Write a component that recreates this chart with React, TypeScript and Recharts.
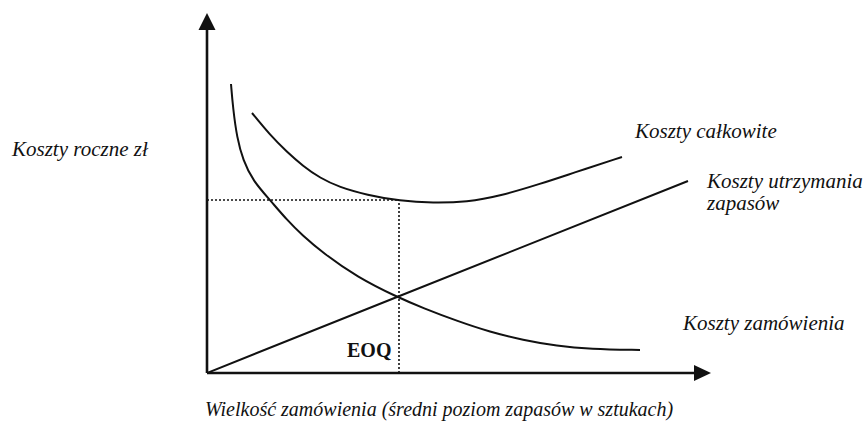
import React from "react";
import { ComposedChart, Line, XAxis, YAxis, ReferenceLine, ReferenceDot } from "recharts";

// data coordinates: x = order quantity (arbitrary units), y = annual cost (arbitrary units)
const orderingCost = [
  { x: 24, y: 289 }, { x: 26, y: 265 }, { x: 30, y: 235 }, { x: 36, y: 213 },
  { x: 46, y: 192 }, { x: 63, y: 173 }, { x: 80, y: 153 }, { x: 95, y: 138 },
  { x: 116, y: 120 }, { x: 150, y: 96 }, { x: 190, y: 76 }, { x: 216, y: 65 },
  { x: 250, y: 52 }, { x: 283, y: 41 }, { x: 316, y: 33 }, { x: 350, y: 27 },
  { x: 383, y: 24 }, { x: 433, y: 23 },
];
const holdingCost = [
  { x: 0, y: 0 }, { x: 190, y: 76 }, { x: 481, y: 192 },
];
const totalCost = [
  { x: 45, y: 260 }, { x: 63, y: 238 }, { x: 80, y: 221 }, { x: 96, y: 207 },
  { x: 113, y: 195 }, { x: 132, y: 186 }, { x: 160, y: 178 }, { x: 193, y: 172 },
  { x: 226, y: 170 }, { x: 260, y: 171 }, { x: 293, y: 177 }, { x: 333, y: 189 },
  { x: 366, y: 200 }, { x: 415, y: 216 },
];
const eoqX = 192;
const eoqCost = 173;
const xMax = 504;
const yMax = 360;

const labels = {
  yTitle: "Koszty roczne zł",
  xTitle: "Wielkość zamówienia (średni poziom zapasów w sztukach)",
  total: "Koszty całkowite",
  holding1: "Koszty utrzymania",
  holding2: "zapasów",
  ordering: "Koszty zamówienia",
  eoq: "EOQ",
};

const ink = "#111";

const UpArrow = (props: any) => {
  const { cx, cy } = props;
  return <polygon points={`${cx},${cy} ${cx - 8.5},${cy + 17} ${cx + 8.5},${cy + 17}`} fill={ink} />;
};
const RightArrow = (props: any) => {
  const { cx, cy } = props;
  return <polygon points={`${cx},${cy} ${cx - 17},${cy - 8} ${cx - 17},${cy + 8}`} fill={ink} />;
};

const serif = '"Liberation Serif", "Times New Roman", Times, serif';
const italicStyle: React.CSSProperties = { fontFamily: serif, fontStyle: "italic", fontSize: 21 };
const xTitleStyle: React.CSSProperties = { fontFamily: serif, fontStyle: "italic", fontSize: 20 };
const boldStyle: React.CSSProperties = { fontFamily: serif, fontWeight: 700, fontSize: 20 };

export default function App() {
  return (
    <div style={{ position: "absolute", left: 0, top: 0, width: 866, height: 431, background: "#fff" }}>
      <ComposedChart
        width={866}
        height={431}
        margin={{ top: 13, right: 155, bottom: 58, left: 207 }}
      >
        <XAxis type="number" dataKey="x" domain={[0, xMax]} hide allowDataOverflow />
        <YAxis type="number" dataKey="y" domain={[0, yMax]} hide allowDataOverflow />
        <ReferenceLine
          segment={[{ x: 0, y: eoqCost }, { x: eoqX, y: eoqCost }]}
          stroke={ink}
          strokeWidth={1.6}
          strokeDasharray="2 2"
        />
        <ReferenceLine
          segment={[{ x: eoqX, y: 0 }, { x: eoqX, y: eoqCost }]}
          stroke={ink}
          strokeWidth={1.6}
          strokeDasharray="2 2"
        />
        <Line data={orderingCost} dataKey="y" type="basis" stroke={ink} strokeWidth={2} dot={false} isAnimationActive={false} />
        <Line data={holdingCost} dataKey="y" type="linear" stroke={ink} strokeWidth={2} dot={false} isAnimationActive={false} />
        <Line data={totalCost} dataKey="y" type="basis" stroke={ink} strokeWidth={2} dot={false} isAnimationActive={false} />
        <ReferenceLine segment={[{ x: 0, y: 0 }, { x: xMax - 10, y: 0 }]} stroke={ink} strokeWidth={2.6} ifOverflow="visible" />
        <ReferenceLine segment={[{ x: 0, y: 0 }, { x: 0, y: yMax - 10 }]} stroke={ink} strokeWidth={2.6} ifOverflow="visible" />
        <ReferenceDot x={0} y={yMax} r={1} shape={UpArrow} ifOverflow="visible" />
        <ReferenceDot x={xMax} y={0} r={1} shape={RightArrow} ifOverflow="visible" />
      </ComposedChart>
      <svg width={866} height={431} style={{ position: "absolute", left: 0, top: 0, pointerEvents: "none" }}>
        <text x={12} y={156} fill={ink} style={italicStyle}>{labels.yTitle}</text>
        <text x={635} y={138} fill={ink} style={italicStyle}>{labels.total}</text>
        <text x={707} y={188} fill={ink} style={italicStyle}>{labels.holding1}</text>
        <text x={707} y={210} fill={ink} style={italicStyle}>{labels.holding2}</text>
        <text x={683} y={330} fill={ink} style={italicStyle}>{labels.ordering}</text>
        <text x={347} y={357} fill={ink} style={boldStyle}>{labels.eoq}</text>
        <text x={205} y={416} fill={ink} style={xTitleStyle}>{labels.xTitle}</text>
      </svg>
    </div>
  );
}
